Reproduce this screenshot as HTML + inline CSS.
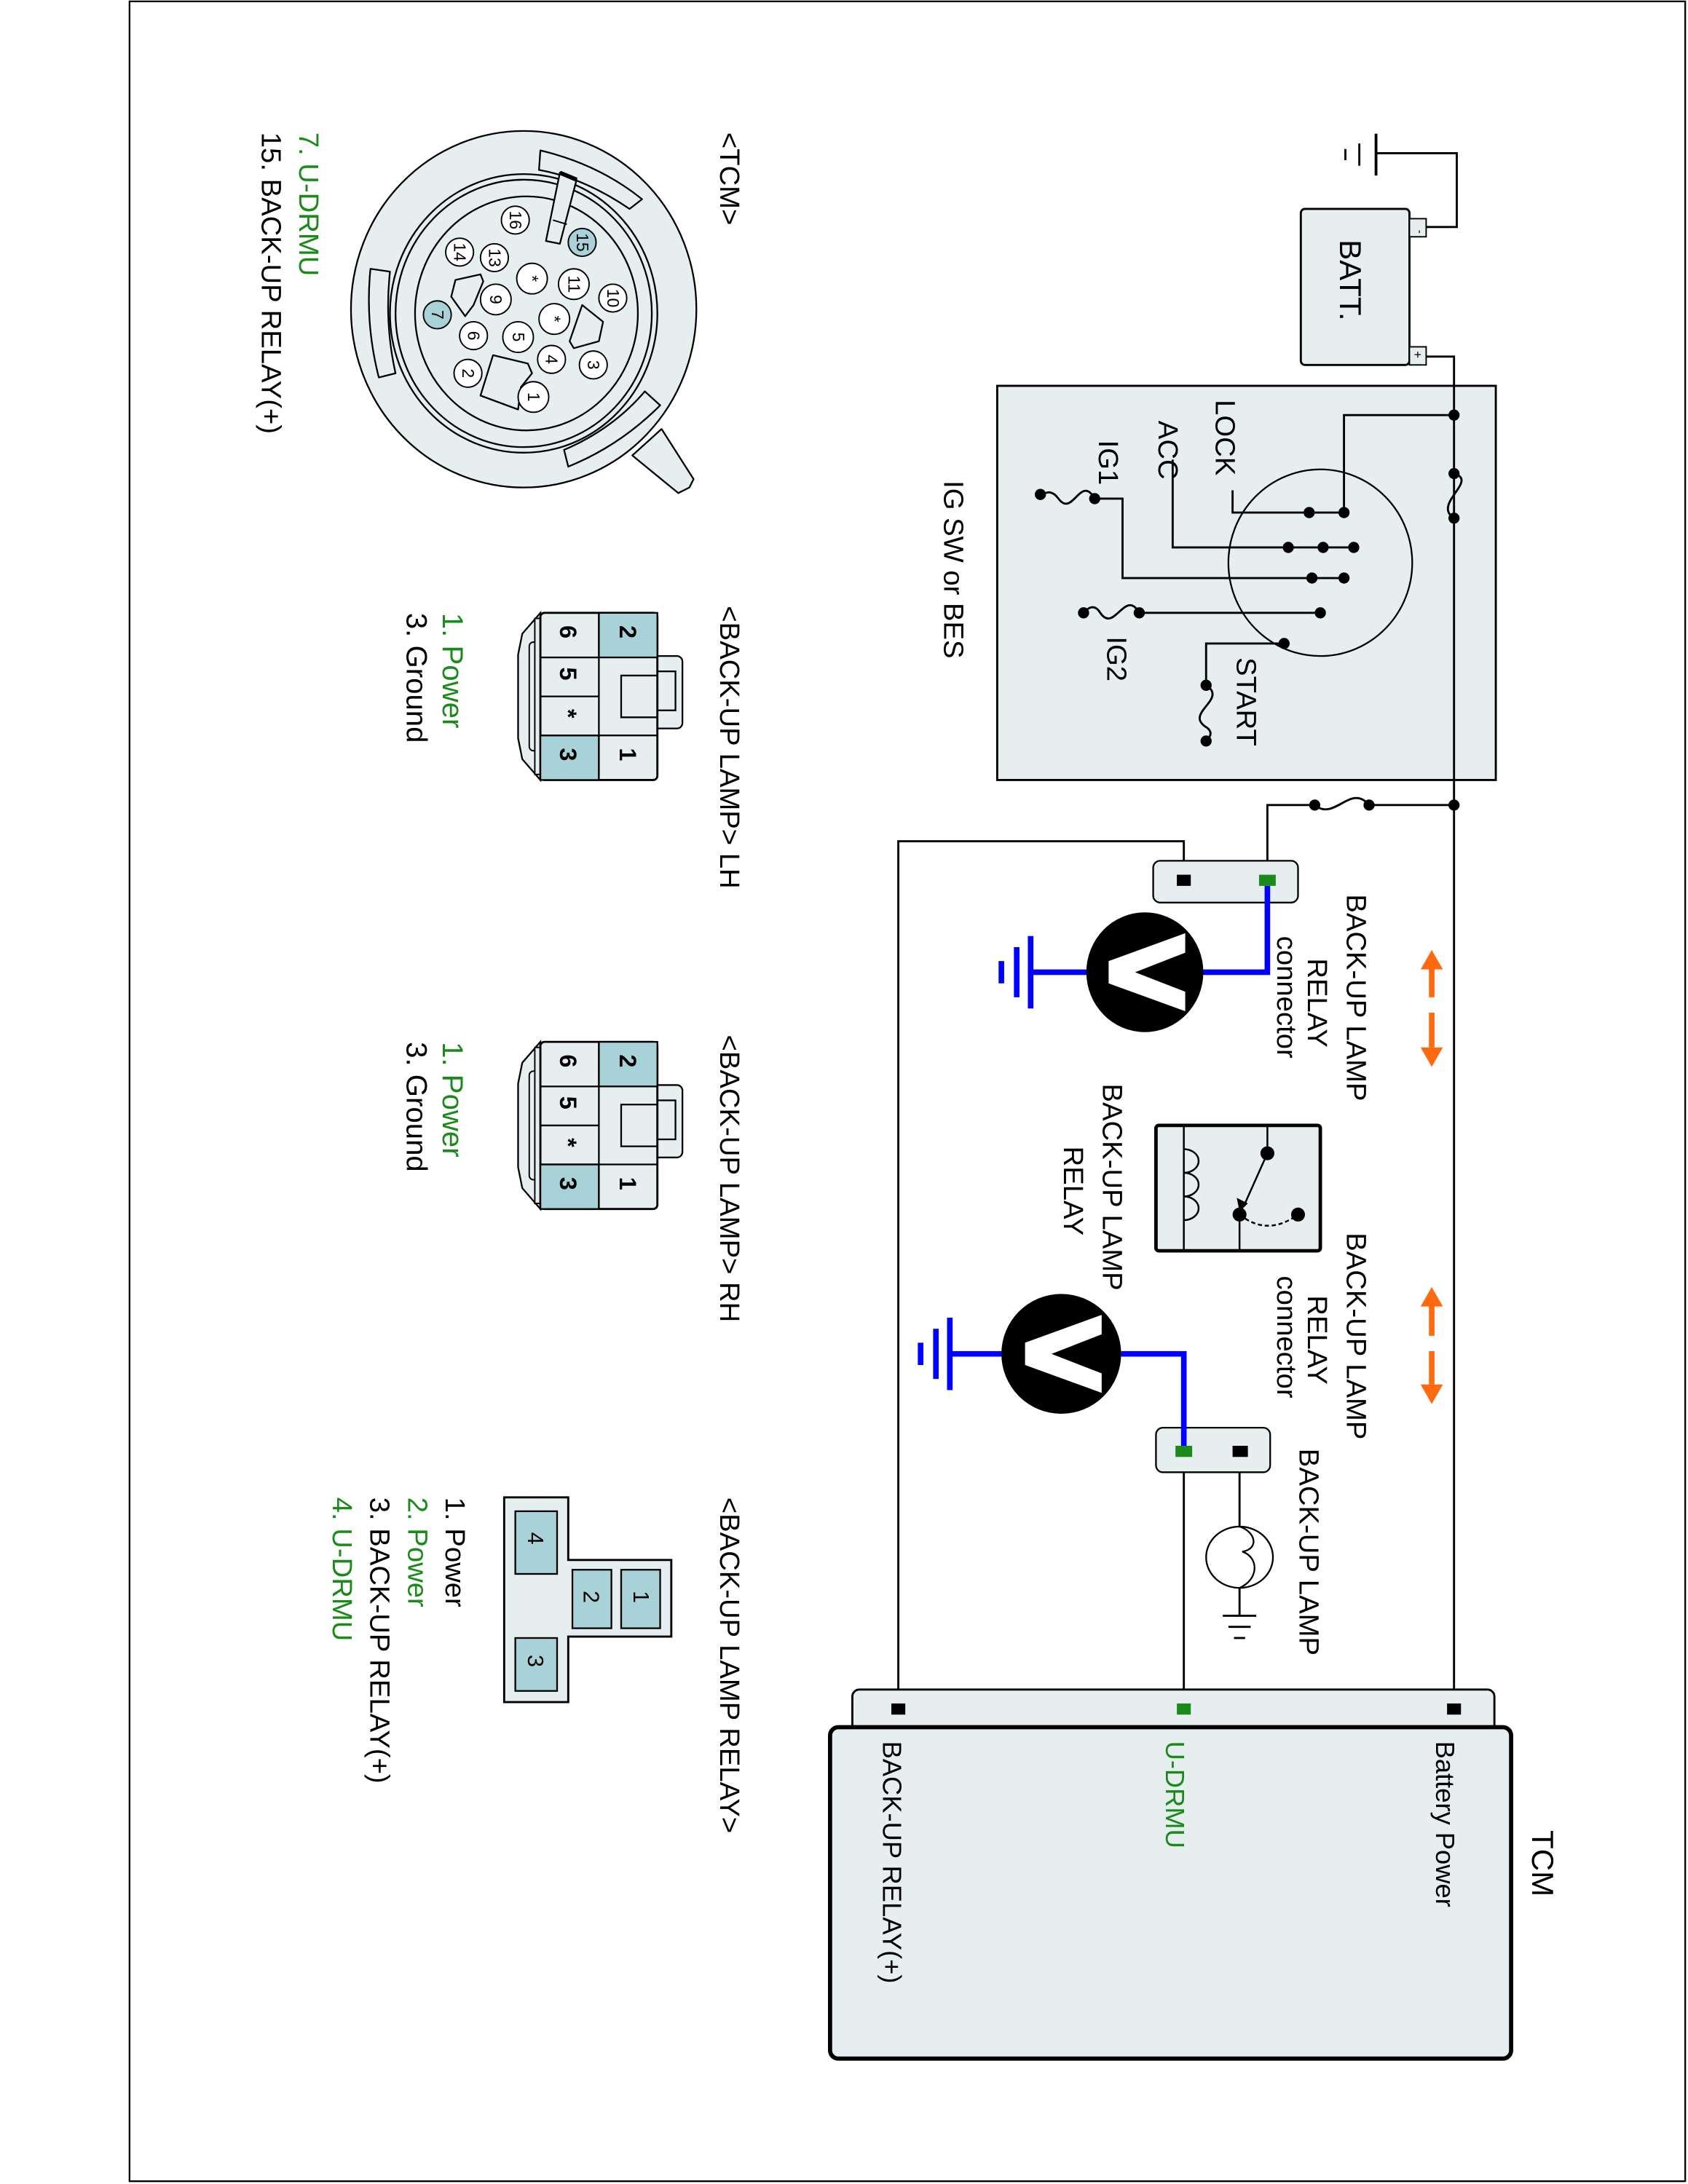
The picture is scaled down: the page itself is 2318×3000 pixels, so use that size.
<!DOCTYPE html>
<html><head><meta charset="utf-8"><style>html,body{margin:0;padding:0;background:#fff}svg{display:block}text{font-family:"Liberation Sans",sans-serif}</style></head><body>
<svg width="2318" height="3000" viewBox="0 0 1212 1568" preserveAspectRatio="none" xmlns="http://www.w3.org/2000/svg">
<rect x="93" y="1" width="1117" height="1565" fill="#fff" stroke="#000" stroke-width="1.2"/>
<g fill="none" stroke="#000" stroke-width="1.5">
<line x1="988" y1="96" x2="988" y2="126" stroke-width="2"/>
<line x1="976" y1="103" x2="976" y2="119"/>
<line x1="966" y1="107" x2="966" y2="115"/>
<polyline points="988,110 1046,110 1046,163 1024,163"/>
<polyline points="1024,256 1044,256 1044,1228"/>
</g>
<rect x="934" y="150" width="78" height="112" rx="3" fill="#e6eef0" stroke="#000" stroke-width="1.5"/>
<rect x="1012" y="157" width="12" height="13" fill="#e6eef0" stroke="#000"/>
<rect x="1012" y="249" width="12" height="13" fill="#e6eef0" stroke="#000"/>
<text transform="translate(1017,165) rotate(90)" font-size="8">-</text>
<text transform="translate(1015,252) rotate(90)" font-size="9">+</text>
<text transform="translate(962,172) rotate(90)" font-size="22">BATT.</text>
<rect x="716" y="277" width="358" height="283" fill="#e6eef0" stroke="#000" stroke-width="1.5"/>
<line x1="1044" y1="277" x2="1044" y2="560" stroke="#000" stroke-width="1.5"/>
<ellipse cx="948" cy="404" rx="66" ry="67" fill="none" stroke="#000" stroke-width="1.2"/>
<g fill="none" stroke="#000" stroke-width="1.5">
<polyline points="1044,298 965,298 965,368 885,368 885,352"/>
<polyline points="972,393 842,393 842,330"/>
<polyline points="965,415 806,415 806,358 786,358"/>
<path d="M786,358 C776,340 770,372 760,358 C754,350 750,355 747,355"/>
<polyline points="948,440 818,440"/>
<path d="M818,440 C808,422 800,455 790,440 C785,432 780,438 778,440"/>
<polyline points="922,462 866,462 866,492"/>
<path d="M866,492 C882,502 850,512 866,522 C872,526 868,530 866,532"/>
<path d="M1044,340 C1062,345 1028,362 1044,372"/>
<polyline points="1044,578 983,578"/>
<path d="M983,578 C970,562 958,590 944,578"/>
<polyline points="944,578 910,578 910,632"/>
<polyline points="850,632 850,604 645,604 645,1228"/>
<polyline points="850,1042 850,1228"/>
<polyline points="890,1042 890,1096"/>
<polyline points="890,1140 890,1160"/>
<line x1="878" y1="1160" x2="902" y2="1160"/>
<line x1="882" y1="1168" x2="898" y2="1168"/>
<line x1="886" y1="1176" x2="894" y2="1176"/>
</g>
<g fill="#000">
<circle cx="1044" cy="298" r="4"/><circle cx="1044" cy="340" r="4"/><circle cx="1044" cy="372" r="4"/><circle cx="1044" cy="578" r="4"/>
<circle cx="965" cy="368" r="4"/><circle cx="940" cy="368" r="4"/>
<circle cx="972" cy="393" r="4"/><circle cx="950" cy="393" r="4"/><circle cx="925" cy="393" r="4"/>
<circle cx="965" cy="415" r="4"/><circle cx="942" cy="415" r="4"/>
<circle cx="786" cy="358" r="4"/><circle cx="747" cy="355" r="4"/>
<circle cx="948" cy="440" r="4"/><circle cx="818" cy="440" r="4"/><circle cx="778" cy="440" r="4"/>
<circle cx="922" cy="462" r="4"/><circle cx="866" cy="492" r="4"/><circle cx="866" cy="532" r="4"/>
<circle cx="983" cy="578" r="4"/><circle cx="944" cy="578" r="4"/>
</g>
<text transform="translate(873,287) rotate(90)" font-size="20">LOCK</text>
<text transform="translate(832,302) rotate(90)" font-size="20">ACC</text>
<text transform="translate(789,316) rotate(90)" font-size="20">IG1</text>
<text transform="translate(795,457) rotate(90)" font-size="20">IG2</text>
<text transform="translate(888,472) rotate(90)" font-size="20">START</text>
<text transform="translate(678,345) rotate(90)" font-size="20">IG SW or BES</text>
<rect x="828" y="618" width="104" height="30" rx="5" fill="#e6eef0" stroke="#000" stroke-width="1.2"/>
<rect x="845" y="628" width="10" height="8" fill="#000"/>
<rect x="904" y="628" width="12" height="8" fill="#1a8a1a"/>
<polyline points="910,636 910,698 862,698" fill="none" stroke="#0000ff" stroke-width="4"/>
<line x1="782" y1="698" x2="740" y2="698" stroke="#0000ff" stroke-width="4"/>
<line x1="740" y1="672" x2="740" y2="724" stroke="#0000ff" stroke-width="4"/>
<line x1="730" y1="680" x2="730" y2="716" stroke="#0000ff" stroke-width="4"/>
<line x1="719" y1="690" x2="719" y2="706" stroke="#0000ff" stroke-width="4"/>
<ellipse cx="822" cy="698" rx="42" ry="43" fill="#000"/>
<polygon points="851,670 851,684 815,698 851,712 851,726 796,706 796,690" fill="#fff"/>
<rect x="830" y="1025" width="82" height="32" rx="5" fill="#e6eef0" stroke="#000" stroke-width="1.2"/>
<rect x="885" y="1038" width="11" height="8" fill="#000"/>
<rect x="844" y="1038" width="12" height="8" fill="#1a8a1a"/>
<polyline points="850,1038 850,972 805,972" fill="none" stroke="#0000ff" stroke-width="4"/>
<line x1="722" y1="972" x2="682" y2="972" stroke="#0000ff" stroke-width="4"/>
<line x1="682" y1="946" x2="682" y2="998" stroke="#0000ff" stroke-width="4"/>
<line x1="672" y1="954" x2="672" y2="990" stroke="#0000ff" stroke-width="4"/>
<line x1="661" y1="964" x2="661" y2="980" stroke="#0000ff" stroke-width="4"/>
<ellipse cx="762" cy="972" rx="43" ry="43" fill="#000"/>
<polygon points="791,944 791,958 755,972 791,986 791,1000 736,980 736,964" fill="#fff"/>
<ellipse cx="890" cy="1118" rx="24" ry="22" fill="#fff" stroke="#000" stroke-width="1.2"/>
<path d="M890,1096 C902,1100 904,1112 892,1114 C904,1118 904,1134 890,1140" fill="none" stroke="#000" stroke-width="1.2"/>
<g fill="#ff6a10" stroke="#ff6a10">
<line x1="1028" y1="695" x2="1028" y2="716" stroke-width="4"/><polygon points="1028,682 1020,696 1036,696" stroke="none"/>
<line x1="1028" y1="727" x2="1028" y2="752" stroke-width="4"/><polygon points="1028,766 1020,752 1036,752" stroke="none"/>
<line x1="1028" y1="937" x2="1028" y2="959" stroke-width="4"/><polygon points="1028,924 1020,938 1036,938" stroke="none"/>
<line x1="1028" y1="970" x2="1028" y2="994" stroke-width="4"/><polygon points="1028,1008 1020,994 1036,994" stroke="none"/>
</g>
<text transform="translate(967,642) rotate(90)" font-size="20">BACK-UP LAMP</text>
<text transform="translate(939,688) rotate(90)" font-size="20">RELAY</text>
<text transform="translate(917,672) rotate(90)" font-size="20">connector</text>
<text transform="translate(967,885) rotate(90)" font-size="20">BACK-UP LAMP</text>
<text transform="translate(939,930) rotate(90)" font-size="20">RELAY</text>
<text transform="translate(917,916) rotate(90)" font-size="20">connector</text>
<text transform="translate(933,1040) rotate(90)" font-size="20">BACK-UP LAMP</text>
<text transform="translate(792,778) rotate(90)" font-size="20">BACK-UP LAMP</text>
<text transform="translate(764,823) rotate(90)" font-size="20">RELAY</text>
<rect x="830" y="808" width="118" height="90" rx="2" fill="#e6eef0" stroke="#000" stroke-width="2.5"/>
<g fill="none" stroke="#000" stroke-width="1.3">
<line x1="850" y1="808" x2="850" y2="898"/>
<path d="M850,825 a10,8 0 0 1 0,17 a10,8 0 0 1 0,17 a10,8 0 0 1 0,17"/>
<line x1="910" y1="808" x2="910" y2="828"/>
<line x1="910" y1="828" x2="893" y2="866"/>
<line x1="890" y1="872" x2="890" y2="898"/>
<path d="M890,872 Q910,888 932,872" stroke-dasharray="3,2"/>
</g>
<polygon points="890,870 888,860 896,864" fill="#000"/>
<circle cx="910" cy="828" r="5"/><circle cx="890" cy="872" r="5"/><circle cx="932" cy="872" r="5"/>
<rect x="612" y="1213" width="461" height="40" rx="5" fill="#e6eef0" stroke="#000" stroke-width="1.5"/>
<rect x="596" y="1240" width="489" height="238" rx="6" fill="#e6eef0" stroke="#000" stroke-width="3"/>
<rect x="1039" y="1223" width="10" height="8" fill="#000"/>
<rect x="845" y="1223" width="10" height="8" fill="#1a8a1a"/>
<rect x="640" y="1223" width="10" height="8" fill="#000"/>
<text transform="translate(1100,1314) rotate(90)" font-size="22">TCM</text>
<text transform="translate(1031,1250) rotate(90)" font-size="19">Battery Power</text>
<text transform="translate(837,1250) rotate(90)" font-size="19" fill="#1a8a1a">U-DRMU</text>
<text transform="translate(634,1250) rotate(90)" font-size="19">BACK-UP RELAY(+)</text>
<text transform="translate(517,95) rotate(90)" font-size="20">&lt;TCM&gt;</text>
<text transform="translate(215,95) rotate(90)" font-size="20" fill="#1a8a1a">7. U-DRMU</text>
<text transform="translate(188,95) rotate(90)" font-size="20">15. BACK-UP RELAY(+)</text>
<g stroke="#000" stroke-width="1.2" fill="#e6eef0" stroke-linejoin="round">
<polygon points="454,327 475,308 498,344 495,350 487,354"/>
<ellipse cx="376" cy="222" rx="124" ry="128"/>
<path d="M388,108 Q430,118 461,143 L452,150 Q420,128 387,122 Z"/>
<path d="M266,193 L280,195 Q276,232 284,268 L272,271 Q262,232 266,193 Z"/>
<path d="M463,281 L474,291 Q445,320 408,335 L405,323 Q440,308 463,281 Z"/>
<ellipse cx="376" cy="225" rx="96" ry="100"/>
<ellipse cx="376" cy="225" rx="92" ry="96"/>
<ellipse cx="378" cy="225" rx="80" ry="84"/>
<polygon points="402,124 414,129 402,175 392,173"/>
<polygon points="324,213 327,201 345,197 347,202 340,219 334,227"/>
<polygon points="418,219 433,231 430,245 412,250 409,245"/>
<polygon points="354,255 379,261 382,268 374,278 372,294 345,284"/>
</g>
<line x1="402" y1="124" x2="414" y2="129" stroke="#000" stroke-width="3"/>
<line x1="397" y1="158" x2="407" y2="161" stroke="#000" stroke-width="1"/>
<g stroke="#000" stroke-width="1">
<g fill="#fff"><circle cx="370" cy="158" r="10"/><circle cx="330" cy="181" r="10"/><circle cx="355" cy="185" r="10"/><circle cx="440" cy="214" r="10"/><circle cx="412" cy="204" r="11"/><circle cx="382" cy="200" r="11"/><circle cx="356" cy="215" r="11"/><circle cx="398" cy="229" r="11"/><circle cx="340" cy="241" r="10"/><circle cx="372" cy="242" r="11"/><circle cx="396" cy="258" r="10"/><circle cx="426" cy="262" r="10"/><circle cx="336" cy="268" r="10"/><circle cx="383" cy="285" r="11"/></g>
<g fill="#a9d2d8"><circle cx="418" cy="174" r="10"/><circle cx="314" cy="226" r="10"/></g>
</g>
<g font-size="12" text-anchor="middle">
<text transform="translate(366,158) rotate(90)">16</text>
<text transform="translate(414,174) rotate(90)">15</text>
<text transform="translate(326,181) rotate(90)">14</text>
<text transform="translate(351,185) rotate(90)">13</text>
<text transform="translate(436,214) rotate(90)">10</text>
<text transform="translate(408,204) rotate(90)">11</text>
<text transform="translate(378,200) rotate(90)">*</text>
<text transform="translate(352,215) rotate(90)">9</text>
<text transform="translate(394,229) rotate(90)">*</text>
<text transform="translate(310,226) rotate(90)">7</text>
<text transform="translate(336,241) rotate(90)">6</text>
<text transform="translate(368,242) rotate(90)">5</text>
<text transform="translate(392,258) rotate(90)">4</text>
<text transform="translate(422,262) rotate(90)">3</text>
<text transform="translate(332,268) rotate(90)">2</text>
<text transform="translate(379,285) rotate(90)">1</text>
</g>
<g id="lamp">
<path d="M388,440 L375,455 L372,470 L372,530 L375,545 L388,560 Z" fill="#e6eef0" stroke="#000" stroke-width="1.2"/>
<rect x="380" y="461" width="8" height="78" rx="3" fill="#e6eef0" stroke="#000" stroke-width="1"/>
<rect x="384" y="444" width="4" height="112" fill="#e6eef0" stroke="#000"/>
<rect x="466" y="471" width="24" height="52" rx="4" fill="#e6eef0" stroke="#000" stroke-width="1.2"/>
<rect x="388" y="440" width="84" height="120" rx="3" fill="#e6eef0" stroke="#000" stroke-width="1.5"/>
<rect x="430" y="440" width="42" height="32" fill="#a9d2d8" stroke="#000" stroke-width="1.2"/>
<rect x="388" y="528" width="42" height="32" fill="#a9d2d8" stroke="#000" stroke-width="1.2"/>
<g stroke="#000" stroke-width="1.2" fill="none">
<line x1="430" y1="440" x2="430" y2="560"/>
<line x1="388" y1="472" x2="430" y2="472"/><line x1="388" y1="500" x2="430" y2="500"/><line x1="388" y1="528" x2="472" y2="528"/>
<polyline points="472,485 446,485 446,515 472,515"/>
<rect x="472" y="482" width="13" height="28"/>
</g>
<g font-size="17" font-weight="bold">
<text transform="translate(445,449) rotate(90)">2</text>
<text transform="translate(402,449) rotate(90)">6</text>
<text transform="translate(402,479) rotate(90)">5</text>
<text transform="translate(402,509) rotate(90)">*</text>
<text transform="translate(402,537) rotate(90)">3</text>
<text transform="translate(445,537) rotate(90)">1</text>
</g>
<text transform="translate(318,440) rotate(90)" font-size="21" fill="#1a8a1a">1. Power</text>
<text transform="translate(292,440) rotate(90)" font-size="21">3. Ground</text>
</g>
<use href="#lamp" transform="translate(0,308)"/>
<text transform="translate(517,435) rotate(90)" font-size="20">&lt;BACK-UP LAMP&gt; LH</text>
<text transform="translate(517,743) rotate(90)" font-size="20">&lt;BACK-UP LAMP&gt; RH</text>
<path d="M362,1075 L408,1075 L408,1120 L482,1120 L482,1175 L408,1175 L408,1222 L362,1222 Z" fill="#e6eef0" stroke="#000" stroke-width="1.5"/>
<g fill="#a9d2d8" stroke="#000" stroke-width="1.2">
<rect x="370" y="1085" width="30" height="45"/><rect x="370" y="1176" width="30" height="38"/>
<rect x="411" y="1127" width="28" height="42"/><rect x="446" y="1127" width="28" height="42"/>
</g>
<g font-size="16">
<text transform="translate(379,1100) rotate(90)">4</text>
<text transform="translate(379,1188) rotate(90)">3</text>
<text transform="translate(419,1142) rotate(90)">2</text>
<text transform="translate(455,1142) rotate(90)">1</text>
</g>
<text transform="translate(517,1075) rotate(90)" font-size="20">&lt;BACK-UP LAMP RELAY&gt;</text>
<text transform="translate(320,1075) rotate(90)" font-size="20">1. Power</text>
<text transform="translate(293,1075) rotate(90)" font-size="20" fill="#1a8a1a">2. Power</text>
<text transform="translate(266,1075) rotate(90)" font-size="20">3. BACK-UP RELAY(+)</text>
<text transform="translate(239,1075) rotate(90)" font-size="20" fill="#1a8a1a">4. U-DRMU</text>
</svg>
</body></html>
